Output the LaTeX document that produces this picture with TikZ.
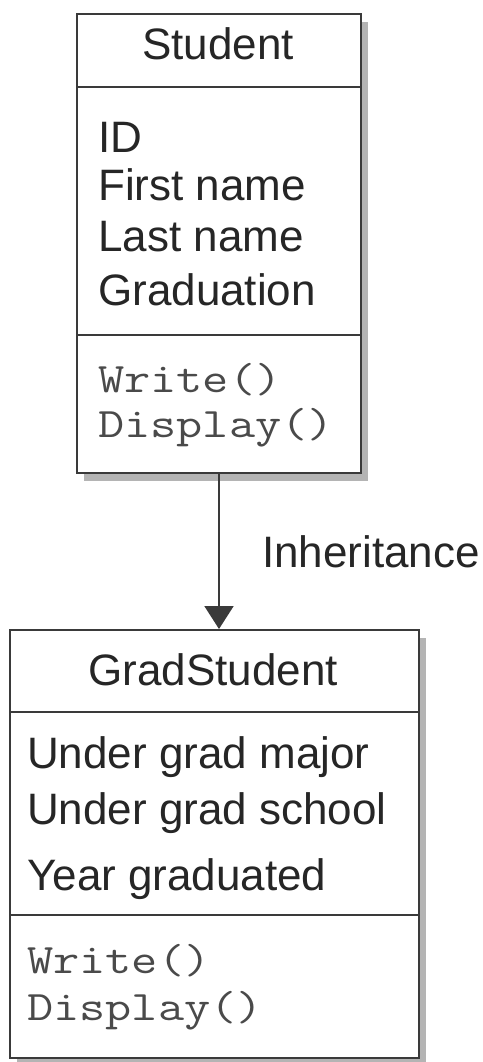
\documentclass[tikz,border=0pt]{standalone}
\usepackage{fontspec}
\setmainfont{Liberation Sans}
\newfontfamily\monof[FakeStretch=1.21]{Latin Modern Mono}
\usetikzlibrary{arrows.meta,shadows}
\definecolor{ink}{HTML}{262626}
\definecolor{edge}{HTML}{3A3A3A}
\definecolor{monoink}{HTML}{4A4A4A}
\definecolor{shade}{HTML}{B4B4B4}
\begin{document}
\begin{tikzpicture}[x=1pt,y=-1pt,
  classbox/.style={draw=edge, line width=2pt, fill=white, rectangle, inner sep=0pt, anchor=north west,
    drop shadow={shadow xshift=7pt, shadow yshift=-8pt, fill=shade, opacity=1}},
  sep/.style={draw=edge, line width=2pt},
  title/.style={font=\fontsize{44}{50}\selectfont, text=ink, anchor=base, inner sep=0pt},
  attr/.style={font=\fontsize{44}{50}\selectfont, text=ink, anchor=base west, inner sep=0pt},
  meth/.style={font=\monof\fontsize{42}{50}\selectfont, text=monoink, anchor=base west, inner sep=0pt},
  arr/.style={draw=edge, line width=2pt, -{Triangle[length=23pt,width=29pt]}}
]
\useasboundingbox (0,0) rectangle (482,1062);
% Student class
\node[classbox, minimum width=284pt, minimum height=459pt] (student) at (76,13) {};
\draw[sep] (76,87) -- (360,87);
\draw[sep] (76,335) -- (360,335);
\node[title] (st) at (218,60) {Student};
\node[attr] (s1) at (98,152) {ID};
\node[attr] (s2) at (98,200) {First name};
\node[attr] (s3) at (98,251) {Last name};
\node[attr] (s4) at (98,305) {Graduation};
\node[meth] (s5) at (98,392) {Write()};
\node[meth] (s6) at (98,437) {Display()};
% GradStudent class
\node[classbox, minimum width=409pt, minimum height=428pt] (grad) at (9,629) {};
\draw[sep] (9,712) -- (418,712);
\draw[sep] (9,915) -- (418,915);
\node[title] (gt) at (213,685) {GradStudent};
\node[attr] (g1) at (27,768) {Under grad major};
\node[attr] (g2) at (27,824) {Under grad school};
\node[attr] (g3) at (27,890) {Year graduated};
\node[meth] (g4) at (27,973) {Write()};
\node[meth] (g5) at (27,1020) {Display()};
% Inheritance
\draw[arr] (student.south) -- (student.south |- grad.north);
\node[attr] (inh) at (262,567) {Inheritance};
\end{tikzpicture}
\end{document}
